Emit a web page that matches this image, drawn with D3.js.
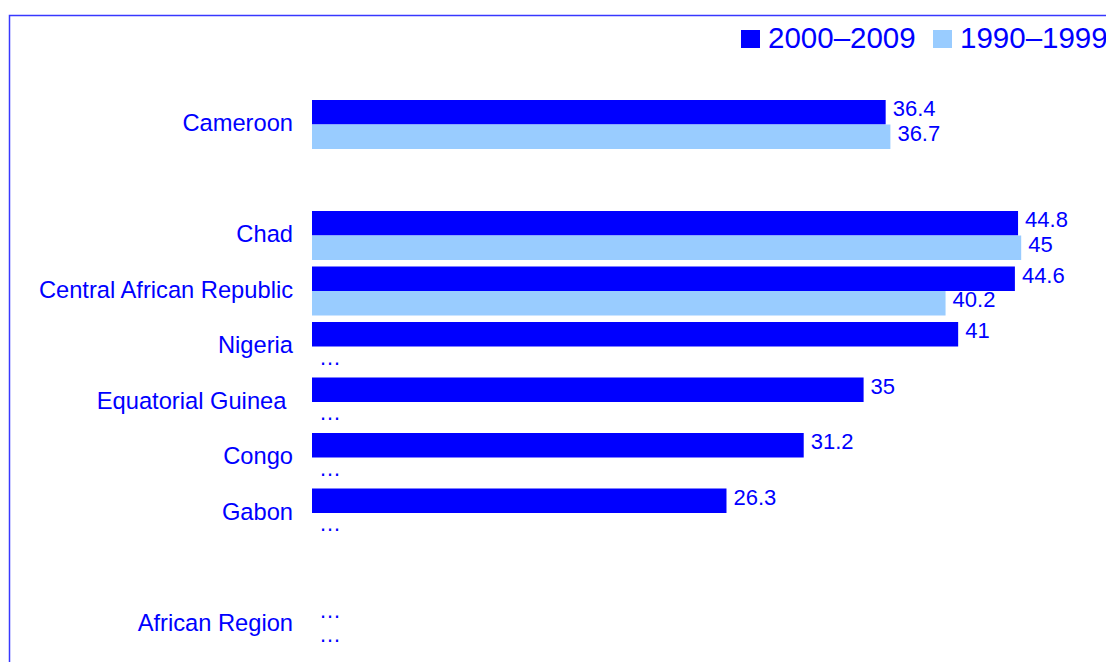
<!DOCTYPE html>
<html>
<head>
<meta charset="utf-8">
<script src="https://cdn.jsdelivr.net/npm/d3@7"></script>
<style>
  html, body { margin: 0; padding: 0; background: #fff; overflow: hidden; }
  text { font-family: "Liberation Sans", Arial, sans-serif; fill: #0000ff; white-space: pre; }
</style>
</head>
<body>
<div id="chart"></div>
<script>
// rows, top to bottom; "" = empty spacer row
const categories = ["Cameroon", "", "Chad", "Central African Republic", "Nigeria",
                    "Equatorial Guinea ", "Congo", "Gabon", "", "African Region"];
// null = not available (shown as "…")
const recent = [36.4, null, 44.8, 44.6, 41, 35, 31.2, 26.3, null, null];   // 2000–2009
const earlier = [36.7, null, 45, 40.2, null, null, null, null, null, null]; // 1990–1999
const seriesNames = ["2000–2009", "1990–1999"];
const colors = ["#0000ff", "#99ccff"];

const width = 1106, height = 662;

const svg = d3.select("#chart").append("svg")
    .attr("width", width)
    .attr("height", height);

// frame
svg.append("path")
    .attr("d", `M9.5,${height} V15.5 H${width}`)
    .attr("fill", "none")
    .attr("stroke", "#3838ff")
    .attr("stroke-width", 1.5);

const x = d3.scaleLinear().domain([0, 45]).range([312, 312 + 45 * 15.76]);
const y = d3.scaleBand()
    .domain(d3.range(categories.length))
    .range([96.75, 651.75])
    .paddingInner(6.5 / 55.5)
    .paddingOuter(3.25 / 55.5);
const half = y.bandwidth() / 2;

// category labels
svg.selectAll(".cat")
    .data(categories)
    .enter().append("text")
    .attr("class", "cat")
    .attr("x", 293)
    .attr("y", (d, i) => y(i) + y.bandwidth() / 2 + 6.5)
    .attr("text-anchor", "end")
    .style("font-size", "23.7px")
    .text(d => d);

const series = [recent, earlier];
series.forEach((vals, s) => {
  const rows = vals.map((v, i) => ({ v, i })).filter(d => categories[d.i] !== "");
  svg.selectAll(".bar" + s)
      .data(rows.filter(d => d.v !== null))
      .enter().append("rect")
      .attr("x", x(0))
      .attr("y", d => y(d.i) + s * half)
      .attr("width", d => x(d.v) - x(0))
      .attr("height", half)
      .attr("fill", colors[s]);

  svg.selectAll(".val" + s)
      .data(rows)
      .enter().append("text")
      .attr("x", d => (d.v === null ? x(0) : x(d.v)) + 7)
      .attr("y", d => y(d.i) + s * half + half / 2 + (d.v === null ? 6 : 4))
      .style("font-size", "22px")
      .text(d => d.v === null ? "…" : d.v);
});

// legend (runs past the right edge, as in the original)
const legend = svg.append("g").attr("transform", "translate(741,30)");
seriesNames.forEach((name, s) => {
  const g = legend.append("g").attr("transform", `translate(${s * 192},0)`);
  g.append("rect").attr("width", 19).attr("height", 18).attr("fill", colors[s]);
  g.append("text")
      .attr("x", 27)
      .attr("y", 18)
      .style("font-size", "29.5px")
      .text(name);
});
</script>
</body>
</html>
